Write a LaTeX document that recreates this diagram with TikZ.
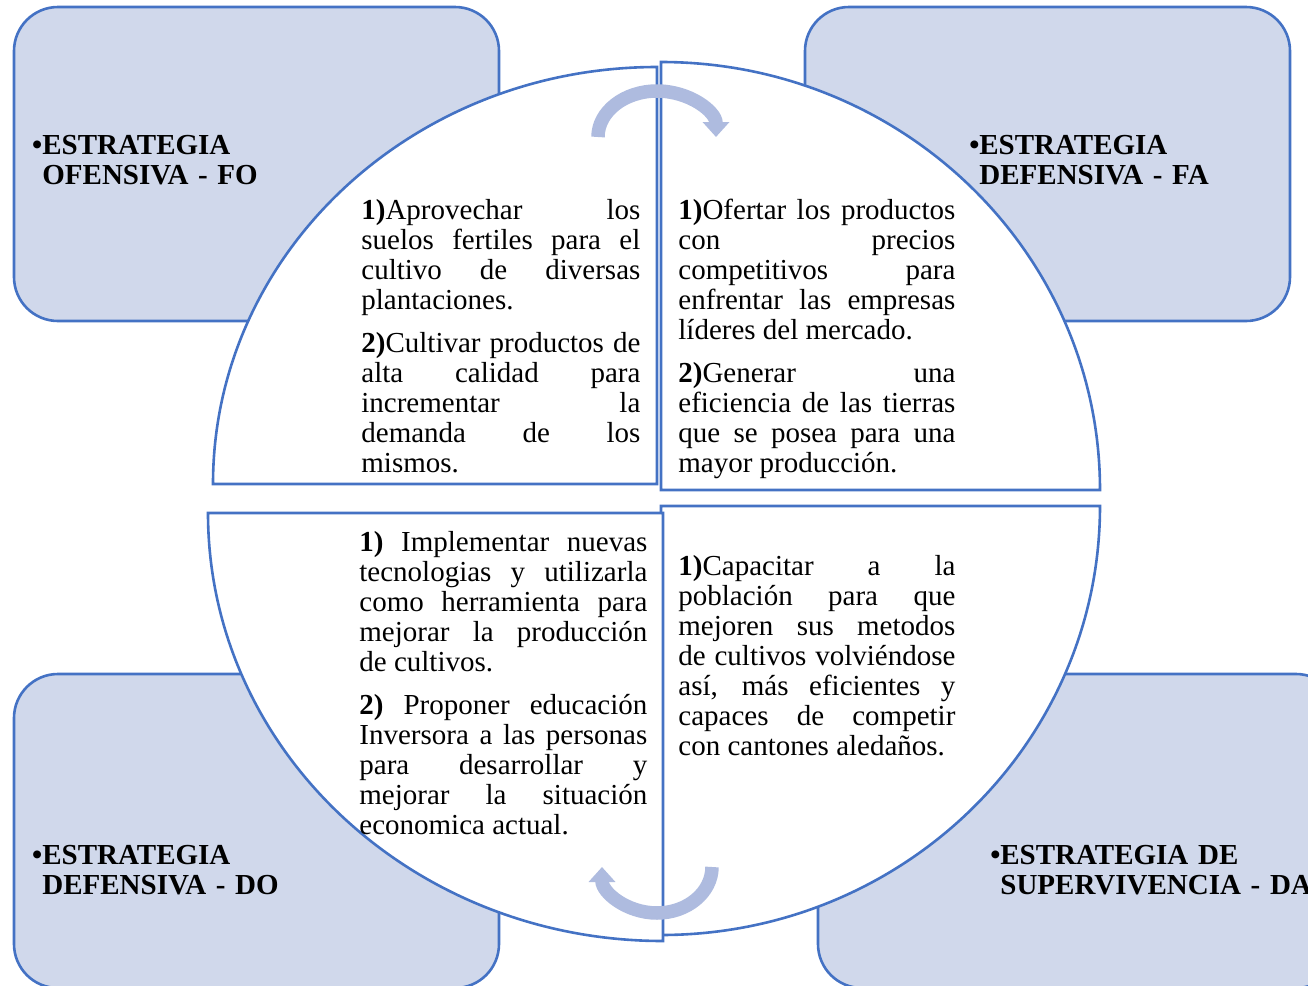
\documentclass[tikz,border=0pt]{standalone}
\usepackage{fontspec}
\setmainfont{Liberation Serif}
\usetikzlibrary{arrows.meta}

\definecolor{boxfill}{RGB}{208,216,235}
\definecolor{edge}{RGB}{68,114,196}
\definecolor{arrowblue}{RGB}{174,187,223}

\newcommand{\headfont}{\bfseries\fontsize{14.5}{15}\selectfont}
\newcommand{\bodyfont}{\fontsize{14.5}{15}\selectfont\parskip=6.5pt\tolerance=10000\hyphenpenalty=10000}

\begin{document}
\begin{tikzpicture}[
  x=0.5pt, y=-0.5pt,
  corner/.style={draw=edge, line width=1.3pt, fill=boxfill, rounded corners=22pt,
                 minimum width=242.5pt, minimum height=157pt, inner sep=0pt},
  quarter/.style={draw=edge, line width=1.3pt, fill=white},
  turnarrow/.style={draw=arrowblue, line width=6.75pt, -{Triangle[width=13pt, length=7.5pt]}},
  head/.style={anchor=north west, inner sep=0pt, text width=160pt, align=left, font=\headfont},
  body/.style={anchor=north west, inner sep=0pt, align=justify, font=\bodyfont},
]
\useasboundingbox (0,0) rectangle (1308,986);

% ============ corner boxes ============
\node[corner] (FObox) at (256.5,164) {};
\node[corner] (FAbox) at (1047.5,164) {};
\node[corner] (DObox) at (256.5,831) {};
\node[corner, minimum width=261pt] (DAbox) at (1079,831) {};

% ============ circle quarters ============
\draw[quarter] (657,484) -- (213,484) arc[start angle=180, end angle=270, x radius=444, y radius=417] -- cycle;
\draw[quarter] (661,490) -- (661,62) arc[start angle=270, end angle=360, x radius=439, y radius=428] -- cycle;
\draw[quarter] (661,506) -- (1100,506) arc[start angle=0, end angle=90, x radius=439, y radius=429] -- cycle;
\draw[quarter] (663,513) -- (663,941) arc[start angle=90, end angle=180, x radius=455, y radius=428] -- cycle;

% ============ turning arrows ============
\draw[turnarrow] (598,137) arc[start angle=180, end angle=360, x radius=59, y radius=46];
\draw[turnarrow] (712,867) arc[start angle=0, end angle=180, x radius=55, y radius=46];

% ============ headings ============
\node[head] (FOhead) at (42,133)  {\strut\llap{•}ESTRATEGIA\\OFENSIVA - FO};
\node[head] (FAhead) at (979,133) {\strut\llap{•}ESTRATEGIA\\DEFENSIVA - FA};
\node[head] (DOhead) at (42,843)  {\strut\llap{•}ESTRATEGIA\\DEFENSIVA - DO};
\node[head] (DAhead) at (1000,843) {\strut\llap{•}ESTRATEGIA DE\\SUPERVIVENCIA - DA};

% ============ strategies ============
\node[body, text width=139.5pt] (FOtext) at (361,198)
  {\strut\textbf{1)}Aprovechar los\linebreak suelos fertiles para el\linebreak cultivo de diversas\linebreak plantaciones.\par
   \textbf{2)}Cultivar productos de\linebreak alta calidad para\linebreak incrementar la\linebreak demanda de los\linebreak mismos.};
\node[body, text width=138.5pt] (FAtext) at (678,198)
  {\strut\textbf{1)}Ofertar los productos\linebreak con precios\linebreak competitivos para\linebreak enfrentar las empresas\linebreak líderes del mercado.\par
   \textbf{2)}Generar una\linebreak eficiencia de las tierras\linebreak que se posea para una\linebreak mayor producción.};
\node[body, text width=144pt] (DOtext) at (359,530)
  {\strut\textbf{1)} Implementar nuevas\linebreak tecnologias y utilizarla\linebreak como herramienta para\linebreak mejorar la producción\linebreak de cultivos.\par
   \textbf{2)} Proponer educación\linebreak Inversora a las personas\linebreak para desarrollar y\linebreak mejorar la situación\linebreak economica actual.};
\node[body, text width=138.5pt] (DAtext) at (678,554)
  {\strut\textbf{1)}Capacitar a la\linebreak población para que\linebreak mejoren sus metodos\linebreak de cultivos volviéndose\linebreak así, más eficientes y\linebreak capaces de competir\linebreak con cantones aledaños.};

\end{tikzpicture}
\end{document}
